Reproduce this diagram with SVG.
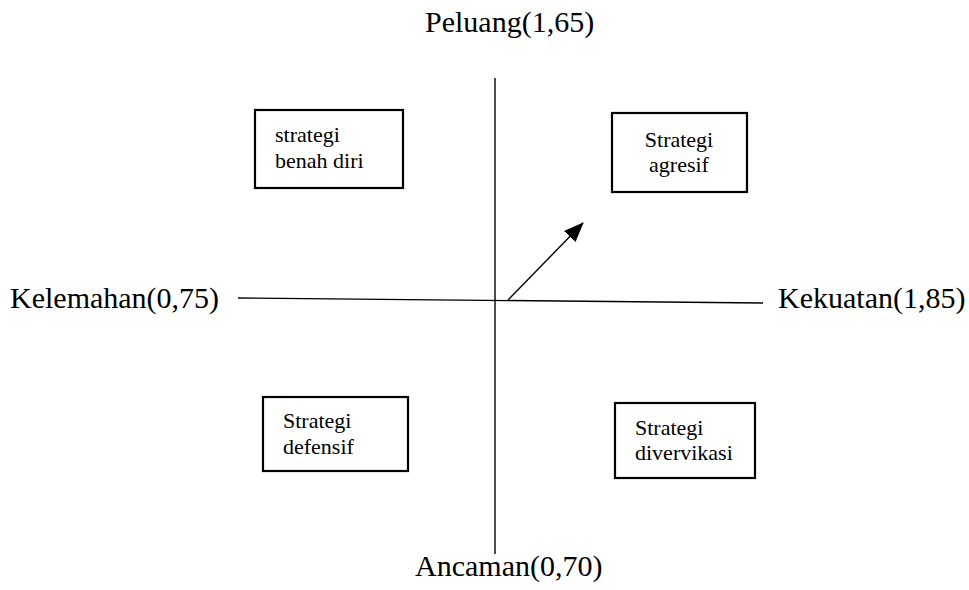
<svg xmlns="http://www.w3.org/2000/svg" width="969" height="590" viewBox="0 0 969 590">
<style>
text{font-family:"Liberation Serif","Times New Roman",serif;fill:#000}
.lbl{font-size:30px}
.bt{font-size:22px}
.box{fill:#fff;stroke:#000;stroke-width:2.2}
.ax{stroke:#000;stroke-width:1.4;fill:none}
</style>
<defs>
<marker id="ah" markerUnits="userSpaceOnUse" markerWidth="20" markerHeight="16" viewBox="0 0 20 16" refX="19" refY="8" orient="auto">
<path d="M0,0 L20,8 L0,16 Z" fill="#000"/>
</marker>
</defs>
<rect width="969" height="590" fill="#fff"/>
<g id="connectors">
<line class="ax" x1="495" y1="78" x2="495" y2="554"/>
<line class="ax" x1="238" y1="298" x2="763" y2="303"/>
<line class="ax" x1="508" y1="300" x2="583" y2="223" stroke-width="1.6" marker-end="url(#ah)"/>
</g>
<g id="peluang"><text class="lbl" x="425" y="32">Peluang(1,65)</text></g>
<g id="kelemahan"><text class="lbl" x="10" y="308">Kelemahan(0,75)</text></g>
<g id="kekuatan"><text class="lbl" x="778" y="308">Kekuatan(1,85)</text></g>
<g id="ancaman"><text class="lbl" x="415" y="576">Ancaman(0,70)</text></g>
<g id="benah-diri">
<rect class="box" x="255" y="110" width="148" height="78"/>
<text class="bt" x="275" y="142">strategi</text>
<text class="bt" x="275" y="168">benah diri</text>
</g>
<g id="agresif">
<rect class="box" x="612" y="113" width="135" height="79"/>
<text class="bt" x="679" y="147" text-anchor="middle">Strategi</text>
<text class="bt" x="679" y="172" text-anchor="middle">agresif</text>
</g>
<g id="defensif">
<rect class="box" x="263" y="397" width="145" height="74"/>
<text class="bt" x="283" y="428">Strategi</text>
<text class="bt" x="283" y="454">defensif</text>
</g>
<g id="diversifikasi">
<rect class="box" x="615" y="403" width="140" height="75"/>
<text class="bt" x="635" y="435">Strategi</text>
<text class="bt" x="635" y="460">divervikasi</text>
</g>
</svg>
